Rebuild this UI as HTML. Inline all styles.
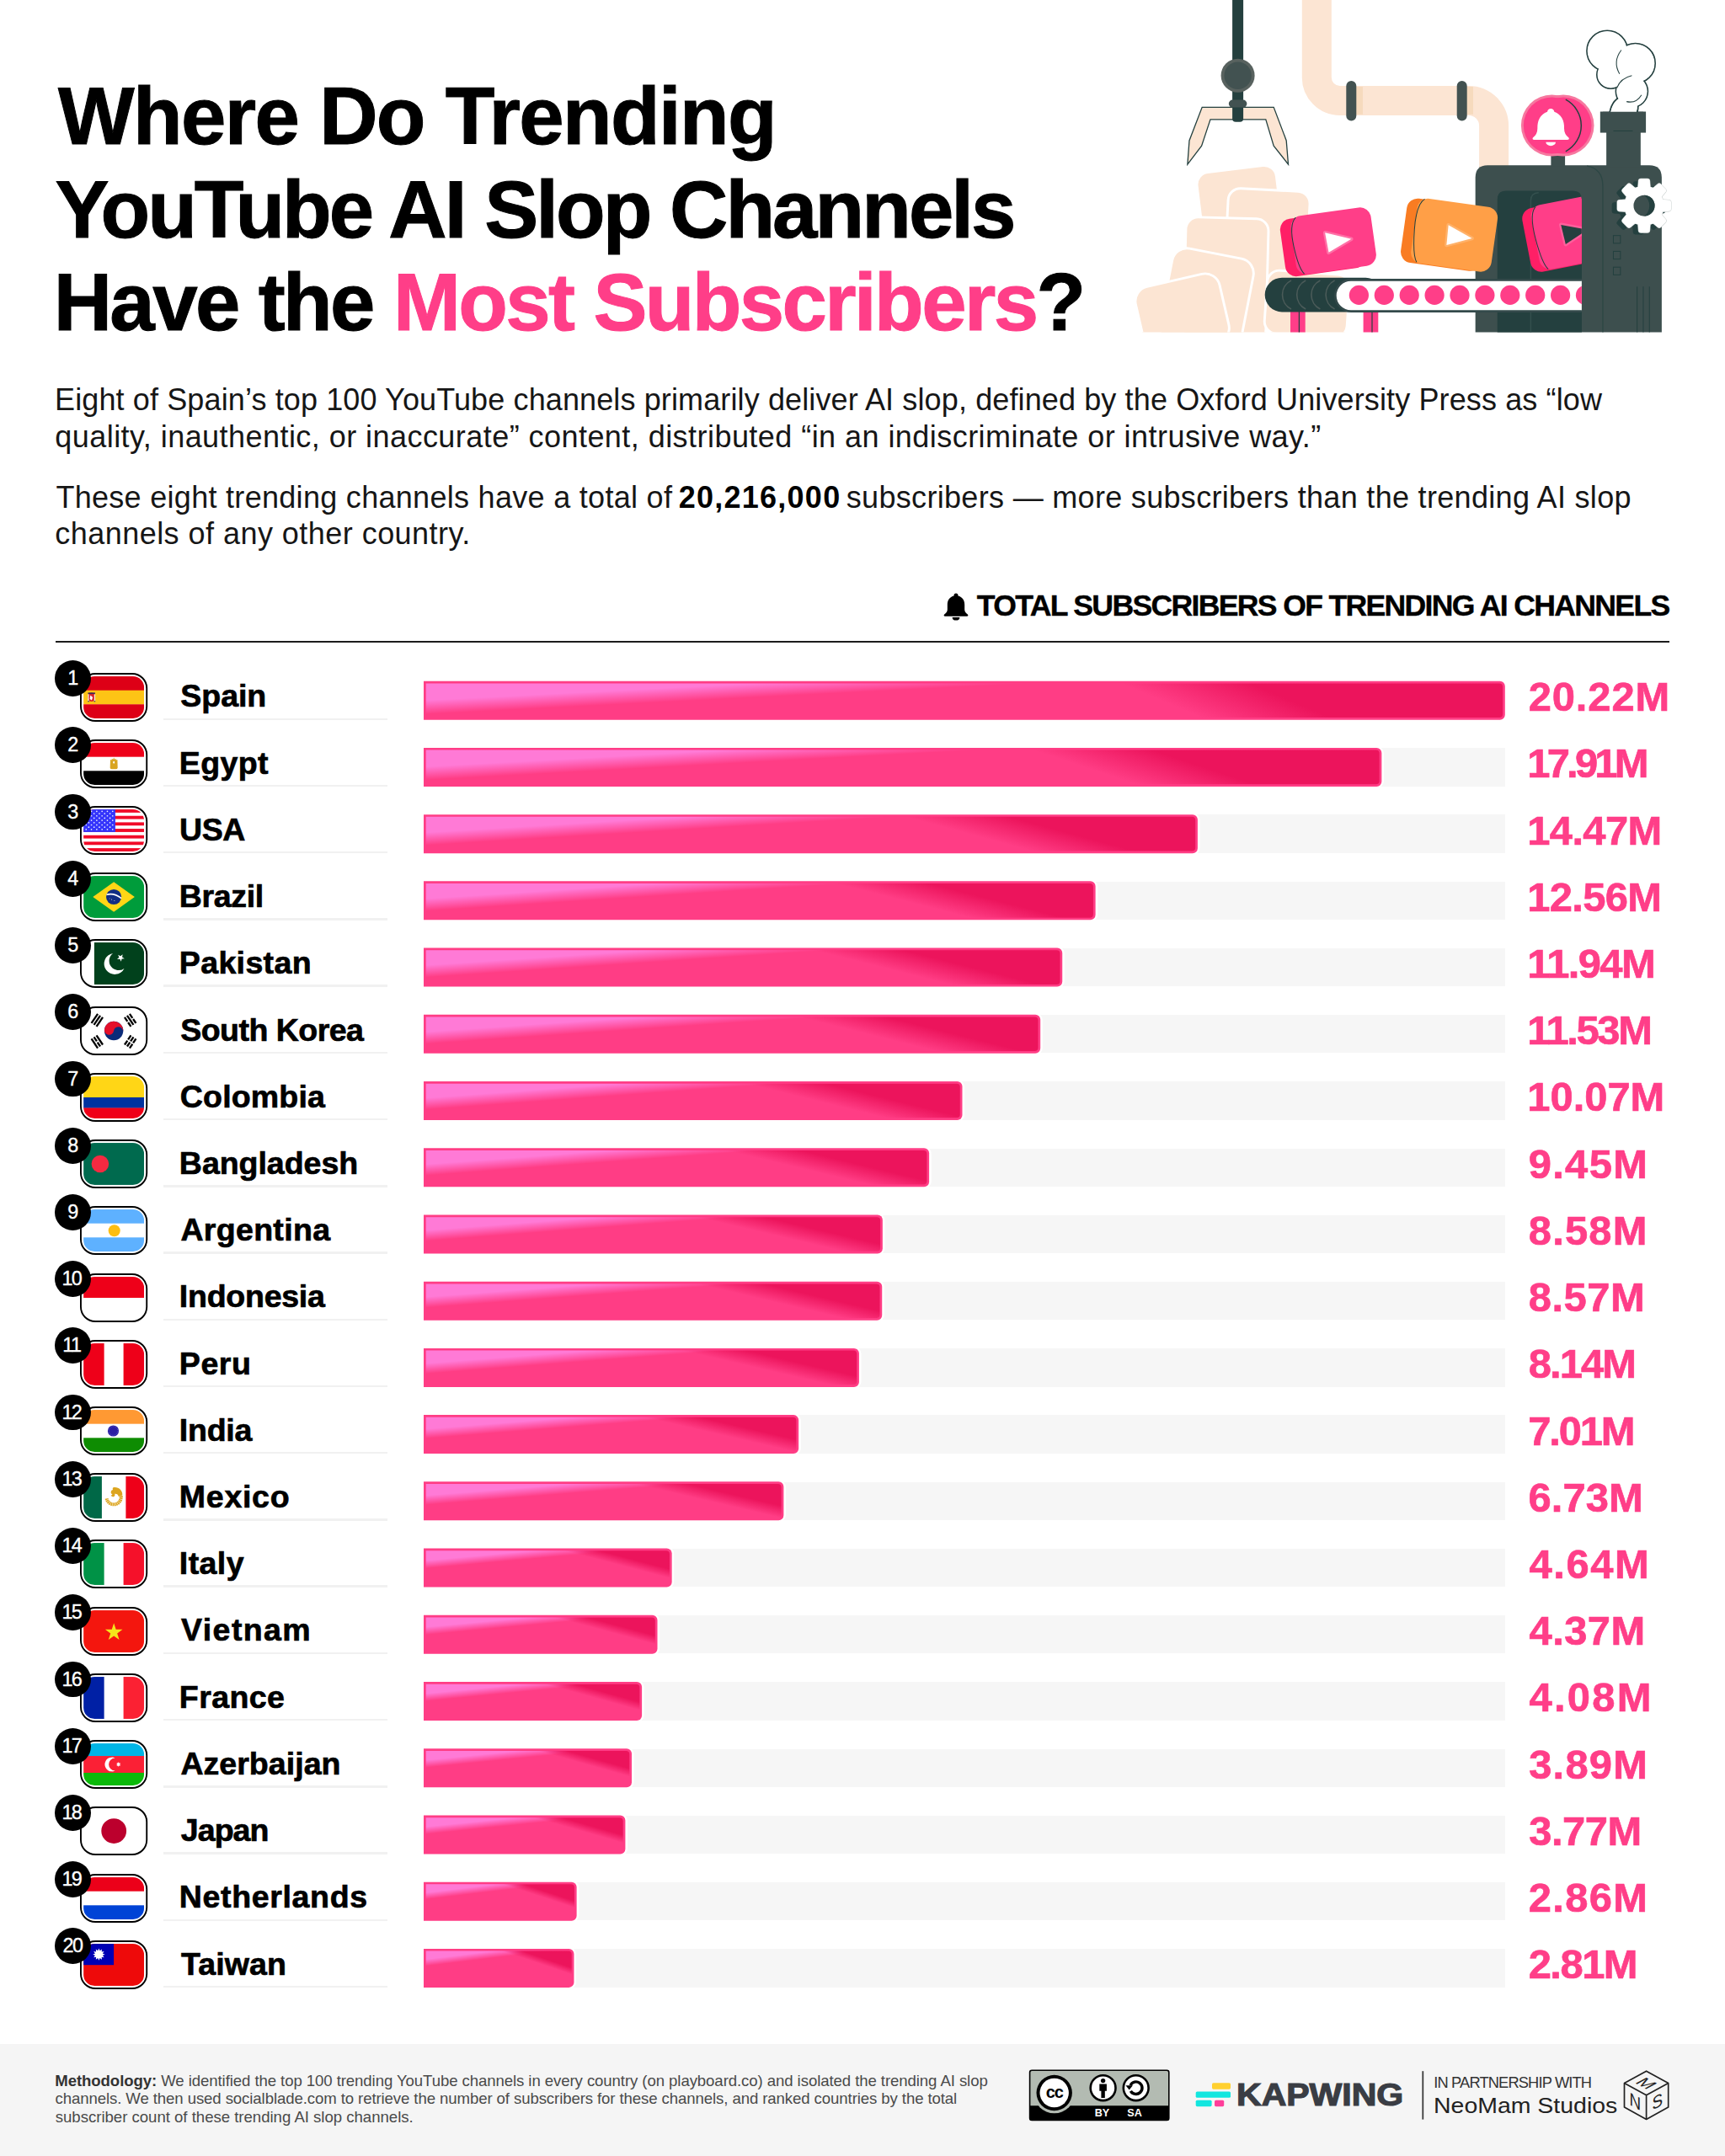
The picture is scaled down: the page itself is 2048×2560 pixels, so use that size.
<!DOCTYPE html>
<html lang="en"><head><meta charset="utf-8"><title>Where Do Trending YouTube AI Slop Channels Have the Most Subscribers?</title>
<style>
html,body{margin:0;padding:0}
body{width:2048px;height:2560px;position:relative;background:#fff;overflow:hidden;font-family:"Liberation Sans",sans-serif}
.t{position:absolute;white-space:nowrap;line-height:1;font-family:"Liberation Sans",sans-serif}
.track{position:absolute;left:503px;width:1283.8px;height:45.4px;background:#f6f6f6}
.ul{position:absolute;left:193.7px;width:266.3px;height:2.4px;background:#f1f1f1}
.num{position:absolute;left:65.4px;width:42.8px;height:42.8px;border-radius:50%;background:#000;color:#fff;font-size:23.4px;line-height:43.4px;-webkit-text-stroke:0.35px #fff;text-align:center;font-family:"Liberation Sans",sans-serif}
.rule{position:absolute;left:66px;width:1916px;top:760.7px;height:2.1px;background:#1c1c1c}
.foot{position:absolute;left:0;top:2427px;width:2048px;height:133px;background:#f5f5f5}
svg{position:absolute;left:0;top:0;overflow:visible}
</style></head><body>
<svg width="2048" height="400" viewBox="0 0 2048 400"><defs><clipPath id="illclip"><rect x="1340" y="-5" width="708" height="399.4"/></clipPath><clipPath id="doorclip"><path d="M430 1895V1135Q430 1085 480 1085H860Q910 1085 910 1135V1895Z"/></clipPath><clipPath id="beltclip"><rect x="1490" y="320" width="387.9" height="80"/></clipPath></defs><g clip-path="url(#illclip)"><path d="M1563.3 -5V91.5A27.5 27.5 0 0 0 1590.8 119.4H1743.6A30 30 0 0 1 1773.6 149.4V200" stroke="#fce5d3" stroke-width="35" fill="none"/><rect x="1610" y="103" width="8" height="32.8" fill="#f3d6b3" opacity="0.7"/><rect x="1741" y="103" width="8" height="32.8" fill="#f3d6b3" opacity="0.7"/><rect x="1598.3" y="96" width="12" height="47.6" rx="6" fill="#425251"/><rect x="1729.7" y="96" width="12" height="47.6" rx="6" fill="#425251"/><g transform="translate(1340,0) scale(0.208696)"><rect x="397.5" y="960.0" width="455" height="310" rx="70" transform="rotate(-7 625 1115)" fill="#fce5d3" stroke="#fff" stroke-width="14"/><rect x="552.5" y="1080.0" width="465" height="640" rx="70" transform="rotate(3 785 1400)" fill="#fce5d3" stroke="#fff" stroke-width="14"/><rect x="318.0" y="1240.0" width="470" height="700" rx="70" transform="rotate(1.5 553 1590)" fill="#fce5d3" stroke="#fff" stroke-width="14"/><rect x="780.0" y="1550.0" width="470" height="360" rx="70" transform="rotate(4 1015 1730)" fill="#fce5d3" stroke="#fff" stroke-width="14"/><rect x="208.0" y="1438.0" width="470" height="540" rx="85" transform="rotate(11 443 1708)" fill="#fce5d3" stroke="#fff" stroke-width="14"/><rect x="60.0" y="1590.0" width="490" height="400" rx="85" transform="rotate(-13 305 1790)" fill="#fce5d3" stroke="#fff" stroke-width="14"/></g><g transform="translate(1688,0) scale(0.208696)"><path d="M305 1895V1010Q305 940 375 940H1295Q1365 940 1365 1010V1895Z" fill="#3d4f4e"/><path d="M430 1895V1135Q430 1085 480 1085H860Q910 1085 910 1135V1895Z" fill="#24403f"/><path d="M620 1895V1140Q620 1098 665 1096" stroke="#34504e" stroke-width="7" fill="none"/><path d="M940 945Q1030 960 1030 1060V1895" stroke="#2c4644" stroke-width="6" fill="none"/><path d="M1225 1630V1895M1260 1630V1895M1295 1630V1895" stroke="#24403f" stroke-width="5"/><rect x="1090" y="1340" width="40" height="44" fill="none" stroke="#24403f" stroke-width="5"/><rect x="1090" y="1430" width="40" height="44" fill="none" stroke="#24403f" stroke-width="5"/><rect x="1090" y="1520" width="40" height="44" fill="none" stroke="#24403f" stroke-width="5"/><rect x="1050" y="700" width="195" height="250" fill="#3d4f4e"/><rect x="1015" y="635" width="260" height="120" fill="#3d4f4e"/><path d="M1090 745H1200" stroke="#24403f" stroke-width="5"/><rect x="735" y="880" width="80" height="65" fill="#3d4f4e"/><g clip-path="url(#doorclip)"><g transform="rotate(-11 842 1322)"><rect x="590.0" y="1144.0" width="400" height="368" rx="62" fill="#ff1f66"/><rect x="642.0" y="1136.0" width="400" height="372" rx="62" fill="#ff3e88"/><path d="M678.0 1142.0Q634.0 1176.0 644.0 1322T682.0 1504.0" stroke="#24403f" stroke-width="5" fill="none"/><path d="M801 1270L944 1326L806 1384Z" fill="#ff5f9c" stroke="#ff5f9c" stroke-width="22" stroke-linejoin="round"/><path d="M801 1270L944 1326L806 1384Z" fill="#24403f"/></g></g></g><g clip-path="url(#beltclip)"><rect x="1532" y="368" width="17.7" height="30" fill="#ff3e88"/><rect x="1618.6" y="368" width="17.7" height="30" fill="#ff3e88"/><path d="M1542.4 368V396M1629 368V396" stroke="#24403f" stroke-width="1.2"/><rect x="1501.7" y="329.7" width="140" height="40.7" rx="20.3" fill="#24403f"/><path d="M1604 332.4H1890V369.6H1604A18.6 18.6 0 0 1 1604 332.4Z" fill="#fff" stroke="#33494a" stroke-width="2.6"/><path d="M1533.0 333A19 19 0 0 0 1533.0 367" stroke="#4b5b59" stroke-width="1.6" fill="none"/><path d="M1550.2 333A19 19 0 0 0 1550.2 367" stroke="#4b5b59" stroke-width="1.6" fill="none"/><path d="M1567.4 333A19 19 0 0 0 1567.4 367" stroke="#4b5b59" stroke-width="1.6" fill="none"/><path d="M1584.6 333A19 19 0 0 0 1584.6 367" stroke="#4b5b59" stroke-width="1.6" fill="none"/><circle cx="1613.4" cy="350.4" r="11.6" fill="#ff3e88"/><circle cx="1643.3" cy="350.4" r="11.6" fill="#ff3e88"/><circle cx="1673.2" cy="350.4" r="11.6" fill="#ff3e88"/><circle cx="1703.1" cy="350.4" r="11.6" fill="#ff3e88"/><circle cx="1733.0" cy="350.4" r="11.6" fill="#ff3e88"/><circle cx="1762.9" cy="350.4" r="11.6" fill="#ff3e88"/><circle cx="1792.8" cy="350.4" r="11.6" fill="#ff3e88"/><circle cx="1822.7" cy="350.4" r="11.6" fill="#ff3e88"/><circle cx="1852.6" cy="350.4" r="11.6" fill="#ff3e88"/><circle cx="1882.5" cy="350.4" r="11.6" fill="#ff3e88"/></g><g transform="translate(1340,0) scale(0.208696)"><g transform="rotate(-8 1165 1370)"><rect x="873.0" y="1210.5" width="460" height="331" rx="62" fill="#ff1f66"/><rect x="935.0" y="1202.5" width="460" height="335" rx="62" fill="#ff3e88"/><path d="M971.0 1208.5Q927.0 1242.5 937.0 1370T975.0 1533.5" stroke="#24403f" stroke-width="5" fill="none"/><path d="M1124 1318L1267 1374L1129 1432Z" fill="#ff6fa6" stroke="#ff6fa6" stroke-width="22" stroke-linejoin="round"/><path d="M1124 1318L1267 1374L1129 1432Z" fill="#fff"/></g></g><g transform="translate(1688,0) scale(0.208696)"><g transform="rotate(8 185 1338)"><rect x="-104.0" y="1160.0" width="462" height="368" rx="62" fill="#f97c22"/><rect x="-46.0" y="1152.0" width="462" height="372" rx="62" fill="#ff9f47"/><path d="M-10.0 1158.0Q-54.0 1192.0 -44.0 1338T-6.0 1520.0" stroke="#24403f" stroke-width="5" fill="none"/><path d="M144 1286L287 1342L149 1400Z" fill="#ffb169" stroke="#ffb169" stroke-width="22" stroke-linejoin="round"/><path d="M144 1286L287 1342L149 1400Z" fill="#fff"/></g><circle cx="1055" cy="290" r="115" fill="#fff" stroke="#24403f" stroke-width="10"/><circle cx="1215" cy="360" r="112" fill="#fff" stroke="#24403f" stroke-width="10"/><circle cx="1195" cy="520" r="90" fill="#fff" stroke="#24403f" stroke-width="10"/><circle cx="1075" cy="425" r="78" fill="#fff" stroke="#24403f" stroke-width="10"/><circle cx="1150" cy="400" r="90" fill="#fff" stroke="#24403f" stroke-width="10"/><path d="M1070 640Q1085 560 1150 545Q1250 540 1225 640Z" fill="#fff" stroke="#24403f" stroke-width="10"/><circle cx="1055" cy="290" r="112.5" fill="#fff"/><circle cx="1215" cy="360" r="109.5" fill="#fff"/><circle cx="1195" cy="520" r="87.5" fill="#fff"/><circle cx="1075" cy="425" r="75.5" fill="#fff"/><circle cx="1150" cy="400" r="87.5" fill="#fff"/><path d="M1074 637Q1090 563 1150 550Q1246 545 1221 637Z" fill="#fff"/><path d="M1135 285Q1085 350 1125 420M1195 430Q1130 445 1110 500M1250 540Q1220 590 1165 578" stroke="#24403f" stroke-width="5" fill="none"/><rect x="1030" y="636" width="230" height="14" fill="#3d4f4e"/><circle cx="805" cy="714" r="175" fill="#f6789f"/><circle cx="740" cy="714" r="175" fill="#f6789f"/><circle cx="805" cy="714" r="161" fill="#ff3e88"/><circle cx="740" cy="714" r="161" fill="#ff3e88"/><path d="M818.4 566.5A167 167 0 0 1 818.4 861.5" stroke="#24403f" stroke-width="7" fill="none"/><g transform="translate(-6,0)"><path d="M740 618q16 0 20 18q58 22 56 96q0 32 26 52q6 10-8 12h-188q-14-2-8-12q26-20 26-52q-2-74 56-96q4-18 20-18z" fill="#fff"/><path d="M712 808h56a28 22 0 0 1-56 0z" fill="#fff"/></g><path d="M1330.5 1160.9 L1371.8 1164.6 L1371.8 1201.4 L1330.5 1205.1 L1317.6 1236.4 L1344.2 1268.1 L1318.1 1294.2 L1286.4 1267.6 L1255.1 1280.5 L1251.4 1321.8 L1214.6 1321.8 L1210.9 1280.5 L1179.6 1267.6 L1147.9 1294.2 L1121.8 1268.1 L1148.4 1236.4 L1135.5 1205.1 L1094.2 1201.4 L1094.2 1164.6 L1135.5 1160.9 L1148.4 1129.6 L1121.8 1097.9 L1147.9 1071.8 L1179.6 1098.4 L1210.9 1085.5 L1214.6 1044.2 L1251.4 1044.2 L1255.1 1085.5 L1286.4 1098.4 L1318.1 1071.8 L1344.2 1097.9 L1317.6 1129.6Z" fill="#24403f" stroke="#24403f" stroke-width="26" stroke-linejoin="round"/><path d="M1362.5 1147.9 L1404.8 1151.4 L1404.8 1188.6 L1362.5 1192.1 L1349.6 1223.4 L1377.0 1255.7 L1350.7 1282.0 L1318.4 1254.6 L1287.1 1267.5 L1283.6 1309.8 L1246.4 1309.8 L1242.9 1267.5 L1211.6 1254.6 L1179.3 1282.0 L1153.0 1255.7 L1180.4 1223.4 L1167.5 1192.1 L1125.2 1188.6 L1125.2 1151.4 L1167.5 1147.9 L1180.4 1116.6 L1153.0 1084.3 L1179.3 1058.0 L1211.6 1085.4 L1242.9 1072.5 L1246.4 1030.2 L1283.6 1030.2 L1287.1 1072.5 L1318.4 1085.4 L1350.7 1058.0 L1377.0 1084.3 L1349.6 1116.6Z" fill="#fff" stroke="#c9d0cf" stroke-width="32" stroke-linejoin="round"/><path d="M1362.5 1147.9 L1404.8 1151.4 L1404.8 1188.6 L1362.5 1192.1 L1349.6 1223.4 L1377.0 1255.7 L1350.7 1282.0 L1318.4 1254.6 L1287.1 1267.5 L1283.6 1309.8 L1246.4 1309.8 L1242.9 1267.5 L1211.6 1254.6 L1179.3 1282.0 L1153.0 1255.7 L1180.4 1223.4 L1167.5 1192.1 L1125.2 1188.6 L1125.2 1151.4 L1167.5 1147.9 L1180.4 1116.6 L1153.0 1084.3 L1179.3 1058.0 L1211.6 1085.4 L1242.9 1072.5 L1246.4 1030.2 L1283.6 1030.2 L1287.1 1072.5 L1318.4 1085.4 L1350.7 1058.0 L1377.0 1084.3 L1349.6 1116.6Z" fill="#fff" stroke="#fff" stroke-width="27" stroke-linejoin="round"/><circle cx="1265" cy="1170" r="60" fill="#3d4f4e"/><path d="M1265 1110a60 60 0 0 1 0 120a75 75 0 0 0 0-120z" fill="#24403f"/></g><path d="M1427.2 127.3H1512.2L1527.2 166.9L1529.5 195.1L1512.2 173.2L1502.8 141.9H1437L1426.6 173.2L1409.9 195.1L1412 166.9Z" fill="#fce5d3" stroke="#24403f" stroke-width="1.3" stroke-linejoin="miter"/><rect x="1463.1" y="-5" width="13" height="149.8" rx="4" fill="#24403f"/><circle cx="1469.6" cy="89.7" r="20" fill="#58625f"/><circle cx="1469.6" cy="89.7" r="16.2" fill="#425251"/><rect x="1458.8" y="118.6" width="21.6" height="9" rx="4.5" fill="#425251"/></g></svg>
<h1 style="margin:0;font-size:inherit;font-weight:inherit"><div class="t" style="left:69.01px;top:89.92px;font-size:96.0px;font-weight:700;color:#000;letter-spacing:-1.651px;-webkit-text-stroke:1.0px currentColor;">Where Do Trending</div><div class="t" style="left:65.56px;top:200.72px;font-size:96.0px;font-weight:700;color:#000;letter-spacing:-2.958px;-webkit-text-stroke:1.0px currentColor;">YouTube AI Slop Channels</div><div class="t" style="left:63.68px;top:310.62px;font-size:96.0px;font-weight:700;color:#000;letter-spacing:-2.627px;-webkit-text-stroke:1.0px currentColor;">Have the <span style="color:#ff3e88">Most Subscribers</span>?</div></h1>
<div class="t" style="left:65.05px;top:457.12px;font-size:36.0px;font-weight:400;color:#161616;letter-spacing:0.122px;">Eight of Spain’s top 100 YouTube channels primarily deliver AI slop, defined by the Oxford University Press as “low</div><div class="t" style="left:65.29px;top:501.02px;font-size:36.0px;font-weight:400;color:#161616;letter-spacing:0.450px;">quality, inauthentic, or inaccurate” content, distributed “in an indiscriminate or intrusive way.”</div><div class="t" style="left:66.39px;top:573.42px;font-size:36.0px;font-weight:400;color:#161616;letter-spacing:0.297px;">These eight trending channels have a total of</div><div class="t" style="left:805.75px;top:573.42px;font-size:36.0px;font-weight:700;color:#000;letter-spacing:1.249px;">20,216,000</div><div class="t" style="left:1004.80px;top:573.42px;font-size:36.0px;font-weight:400;color:#161616;letter-spacing:0.314px;">subscribers — more subscribers than the trending AI slop</div><div class="t" style="left:65.27px;top:616.42px;font-size:36.0px;font-weight:400;color:#161616;letter-spacing:0.462px;">channels of any other country.</div>
<svg width="30" height="33" viewBox="0 0 30 33" style="left:1119.7px;top:704.2px"><path d="M15 0.4a2.5 2.5 0 0 1 2.5 2.5v0.7c4.9 1.2 7.7 5.1 7.700 10.500v5.600c0 2.400 1.500 4.300 3.600 5.800c1.100 0.800 0.600 2.300-0.800 2.300H2c-1.400 0-1.900-1.500-0.800-2.300c2.100-1.500 3.600-3.400 3.600-5.800v-5.600c0-5.400 2.800-9.300 7.700-10.500v-0.700A2.500 2.500 0 0 1 15 0.400z" fill="#000"/><path d="M10.600 28.900h8.800a4.400 3.700 0 0 1-8.800 0z" fill="#000"/></svg><div class="t" style="left:1159.80px;top:702.16px;font-size:35.6px;font-weight:700;color:#000;letter-spacing:-1.669px;-webkit-text-stroke:0.4px currentColor;">TOTAL SUBSCRIBERS OF TRENDING AI CHANNELS</div>
<div class="rule"></div>
<div class="track" style="top:888.22px"></div><div class="track" style="top:967.44px"></div><div class="track" style="top:1046.66px"></div><div class="track" style="top:1125.88px"></div><div class="track" style="top:1205.10px"></div><div class="track" style="top:1284.32px"></div><div class="track" style="top:1363.54px"></div><div class="track" style="top:1442.76px"></div><div class="track" style="top:1521.98px"></div><div class="track" style="top:1601.20px"></div><div class="track" style="top:1680.42px"></div><div class="track" style="top:1759.64px"></div><div class="track" style="top:1838.86px"></div><div class="track" style="top:1918.08px"></div><div class="track" style="top:1997.30px"></div><div class="track" style="top:2076.52px"></div><div class="track" style="top:2155.74px"></div><div class="track" style="top:2234.96px"></div><div class="track" style="top:2314.18px"></div>
<svg width="2048" height="2560" viewBox="0 0 2048 2560"><defs><linearGradient id="l0" gradientUnits="userSpaceOnUse" x1="505.70" y1="811.40" x2="507.56" y2="847.84"><stop offset="0" stop-color="#ff7ad6"/><stop offset="0.55" stop-color="#ff7ad6"/><stop offset="1" stop-color="#ff7ad6" stop-opacity="0"/></linearGradient><linearGradient id="d0" gradientUnits="userSpaceOnUse" x1="1330.26" y1="811.40" x2="1353.56" y2="756.33"><stop offset="0" stop-color="#ec145c" stop-opacity="0"/><stop offset="1" stop-color="#ec145c"/></linearGradient><linearGradient id="l1" gradientUnits="userSpaceOnUse" x1="505.70" y1="890.62" x2="507.63" y2="926.07"><stop offset="0" stop-color="#ff7ad6"/><stop offset="0.55" stop-color="#ff7ad6"/><stop offset="1" stop-color="#ff7ad6" stop-opacity="0"/></linearGradient><linearGradient id="d1" gradientUnits="userSpaceOnUse" x1="1226.94" y1="890.62" x2="1241.21" y2="847.97"><stop offset="0" stop-color="#ec145c" stop-opacity="0"/><stop offset="1" stop-color="#ec145c"/></linearGradient><linearGradient id="l2" gradientUnits="userSpaceOnUse" x1="505.70" y1="969.84" x2="507.75" y2="1003.52"><stop offset="0" stop-color="#ff7ad6"/><stop offset="0.55" stop-color="#ff7ad6"/><stop offset="1" stop-color="#ff7ad6" stop-opacity="0"/></linearGradient><linearGradient id="d2" gradientUnits="userSpaceOnUse" x1="1075.16" y1="969.84" x2="1083.57" y2="938.82"><stop offset="0" stop-color="#ec145c" stop-opacity="0"/><stop offset="1" stop-color="#ec145c"/></linearGradient><linearGradient id="l3" gradientUnits="userSpaceOnUse" x1="505.70" y1="1049.06" x2="507.83" y2="1081.57"><stop offset="0" stop-color="#ff7ad6"/><stop offset="0.55" stop-color="#ff7ad6"/><stop offset="1" stop-color="#ff7ad6" stop-opacity="0"/></linearGradient><linearGradient id="d3" gradientUnits="userSpaceOnUse" x1="992.30" y1="1049.06" x2="999.06" y2="1022.47"><stop offset="0" stop-color="#ec145c" stop-opacity="0"/><stop offset="1" stop-color="#ec145c"/></linearGradient><linearGradient id="l4" gradientUnits="userSpaceOnUse" x1="505.70" y1="1128.28" x2="507.86" y2="1160.37"><stop offset="0" stop-color="#ff7ad6"/><stop offset="0.55" stop-color="#ff7ad6"/><stop offset="1" stop-color="#ff7ad6" stop-opacity="0"/></linearGradient><linearGradient id="d4" gradientUnits="userSpaceOnUse" x1="965.65" y1="1128.28" x2="972.01" y2="1102.92"><stop offset="0" stop-color="#ec145c" stop-opacity="0"/><stop offset="1" stop-color="#ec145c"/></linearGradient><linearGradient id="l5" gradientUnits="userSpaceOnUse" x1="505.70" y1="1207.50" x2="507.88" y2="1239.30"><stop offset="0" stop-color="#ff7ad6"/><stop offset="0.55" stop-color="#ff7ad6"/><stop offset="1" stop-color="#ff7ad6" stop-opacity="0"/></linearGradient><linearGradient id="d5" gradientUnits="userSpaceOnUse" x1="948.10" y1="1207.50" x2="954.23" y2="1182.92"><stop offset="0" stop-color="#ec145c" stop-opacity="0"/><stop offset="1" stop-color="#ec145c"/></linearGradient><linearGradient id="l6" gradientUnits="userSpaceOnUse" x1="505.70" y1="1286.72" x2="507.96" y2="1317.40"><stop offset="0" stop-color="#ff7ad6"/><stop offset="0.55" stop-color="#ff7ad6"/><stop offset="1" stop-color="#ff7ad6" stop-opacity="0"/></linearGradient><linearGradient id="d6" gradientUnits="userSpaceOnUse" x1="886.14" y1="1286.72" x2="891.56" y2="1264.66"><stop offset="0" stop-color="#ec145c" stop-opacity="0"/><stop offset="1" stop-color="#ec145c"/></linearGradient><linearGradient id="l7" gradientUnits="userSpaceOnUse" x1="505.70" y1="1365.94" x2="507.92" y2="1395.62"><stop offset="0" stop-color="#ff7ad6"/><stop offset="0.55" stop-color="#ff7ad6"/><stop offset="1" stop-color="#ff7ad6" stop-opacity="0"/></linearGradient><linearGradient id="d7" gradientUnits="userSpaceOnUse" x1="861.48" y1="1365.94" x2="866.32" y2="1345.72"><stop offset="0" stop-color="#ec145c" stop-opacity="0"/><stop offset="1" stop-color="#ec145c"/></linearGradient><linearGradient id="l8" gradientUnits="userSpaceOnUse" x1="505.70" y1="1445.16" x2="507.86" y2="1473.33"><stop offset="0" stop-color="#ff7ad6"/><stop offset="0.55" stop-color="#ff7ad6"/><stop offset="1" stop-color="#ff7ad6" stop-opacity="0"/></linearGradient><linearGradient id="d8" gradientUnits="userSpaceOnUse" x1="826.99" y1="1445.16" x2="831.18" y2="1427.23"><stop offset="0" stop-color="#ec145c" stop-opacity="0"/><stop offset="1" stop-color="#ec145c"/></linearGradient><linearGradient id="l9" gradientUnits="userSpaceOnUse" x1="505.70" y1="1524.38" x2="507.85" y2="1552.54"><stop offset="0" stop-color="#ff7ad6"/><stop offset="0.55" stop-color="#ff7ad6"/><stop offset="1" stop-color="#ff7ad6" stop-opacity="0"/></linearGradient><linearGradient id="d9" gradientUnits="userSpaceOnUse" x1="826.59" y1="1524.38" x2="830.78" y2="1506.47"><stop offset="0" stop-color="#ec145c" stop-opacity="0"/><stop offset="1" stop-color="#ec145c"/></linearGradient><linearGradient id="l10" gradientUnits="userSpaceOnUse" x1="505.70" y1="1603.60" x2="507.82" y2="1630.95"><stop offset="0" stop-color="#ff7ad6"/><stop offset="0.55" stop-color="#ff7ad6"/><stop offset="1" stop-color="#ff7ad6" stop-opacity="0"/></linearGradient><linearGradient id="d10" gradientUnits="userSpaceOnUse" x1="809.61" y1="1603.60" x2="813.52" y2="1586.72"><stop offset="0" stop-color="#ec145c" stop-opacity="0"/><stop offset="1" stop-color="#ec145c"/></linearGradient><linearGradient id="l11" gradientUnits="userSpaceOnUse" x1="505.70" y1="1682.82" x2="507.69" y2="1707.84"><stop offset="0" stop-color="#ff7ad6"/><stop offset="0.55" stop-color="#ff7ad6"/><stop offset="1" stop-color="#ff7ad6" stop-opacity="0"/></linearGradient><linearGradient id="d11" gradientUnits="userSpaceOnUse" x1="765.17" y1="1682.82" x2="768.50" y2="1668.36"><stop offset="0" stop-color="#ec145c" stop-opacity="0"/><stop offset="1" stop-color="#ec145c"/></linearGradient><linearGradient id="l12" gradientUnits="userSpaceOnUse" x1="505.70" y1="1762.04" x2="507.68" y2="1786.64"><stop offset="0" stop-color="#ff7ad6"/><stop offset="0.55" stop-color="#ff7ad6"/><stop offset="1" stop-color="#ff7ad6" stop-opacity="0"/></linearGradient><linearGradient id="d12" gradientUnits="userSpaceOnUse" x1="753.81" y1="1762.04" x2="757.05" y2="1748.10"><stop offset="0" stop-color="#ec145c" stop-opacity="0"/><stop offset="1" stop-color="#ec145c"/></linearGradient><linearGradient id="l13" gradientUnits="userSpaceOnUse" x1="505.70" y1="1841.26" x2="507.59" y2="1862.09"><stop offset="0" stop-color="#ff7ad6"/><stop offset="0.55" stop-color="#ff7ad6"/><stop offset="1" stop-color="#ff7ad6" stop-opacity="0"/></linearGradient><linearGradient id="d13" gradientUnits="userSpaceOnUse" x1="670.07" y1="1841.26" x2="672.77" y2="1830.95"><stop offset="0" stop-color="#ec145c" stop-opacity="0"/><stop offset="1" stop-color="#ec145c"/></linearGradient><linearGradient id="l14" gradientUnits="userSpaceOnUse" x1="505.70" y1="1920.48" x2="507.62" y2="1940.92"><stop offset="0" stop-color="#ff7ad6"/><stop offset="0.55" stop-color="#ff7ad6"/><stop offset="1" stop-color="#ff7ad6" stop-opacity="0"/></linearGradient><linearGradient id="d14" gradientUnits="userSpaceOnUse" x1="658.73" y1="1920.48" x2="661.38" y2="1910.62"><stop offset="0" stop-color="#ec145c" stop-opacity="0"/><stop offset="1" stop-color="#ec145c"/></linearGradient><linearGradient id="l15" gradientUnits="userSpaceOnUse" x1="505.70" y1="1999.70" x2="507.65" y2="2019.69"><stop offset="0" stop-color="#ff7ad6"/><stop offset="0.55" stop-color="#ff7ad6"/><stop offset="1" stop-color="#ff7ad6" stop-opacity="0"/></linearGradient><linearGradient id="d15" gradientUnits="userSpaceOnUse" x1="646.67" y1="1999.70" x2="649.26" y2="1990.31"><stop offset="0" stop-color="#ec145c" stop-opacity="0"/><stop offset="1" stop-color="#ec145c"/></linearGradient><linearGradient id="l16" gradientUnits="userSpaceOnUse" x1="505.70" y1="2078.92" x2="507.68" y2="2098.60"><stop offset="0" stop-color="#ff7ad6"/><stop offset="0.55" stop-color="#ff7ad6"/><stop offset="1" stop-color="#ff7ad6" stop-opacity="0"/></linearGradient><linearGradient id="d16" gradientUnits="userSpaceOnUse" x1="638.84" y1="2078.92" x2="641.40" y2="2069.85"><stop offset="0" stop-color="#ec145c" stop-opacity="0"/><stop offset="1" stop-color="#ec145c"/></linearGradient><linearGradient id="l17" gradientUnits="userSpaceOnUse" x1="505.70" y1="2158.14" x2="507.69" y2="2177.61"><stop offset="0" stop-color="#ff7ad6"/><stop offset="0.55" stop-color="#ff7ad6"/><stop offset="1" stop-color="#ff7ad6" stop-opacity="0"/></linearGradient><linearGradient id="d17" gradientUnits="userSpaceOnUse" x1="633.92" y1="2158.14" x2="636.46" y2="2149.26"><stop offset="0" stop-color="#ec145c" stop-opacity="0"/><stop offset="1" stop-color="#ec145c"/></linearGradient><linearGradient id="l18" gradientUnits="userSpaceOnUse" x1="505.70" y1="2237.36" x2="507.82" y2="2255.03"><stop offset="0" stop-color="#ff7ad6"/><stop offset="0.55" stop-color="#ff7ad6"/><stop offset="1" stop-color="#ff7ad6" stop-opacity="0"/></linearGradient><linearGradient id="d18" gradientUnits="userSpaceOnUse" x1="597.49" y1="2237.36" x2="599.92" y2="2230.00"><stop offset="0" stop-color="#ec145c" stop-opacity="0"/><stop offset="1" stop-color="#ec145c"/></linearGradient><linearGradient id="l19" gradientUnits="userSpaceOnUse" x1="505.70" y1="2316.58" x2="507.84" y2="2334.18"><stop offset="0" stop-color="#ff7ad6"/><stop offset="0.55" stop-color="#ff7ad6"/><stop offset="1" stop-color="#ff7ad6" stop-opacity="0"/></linearGradient><linearGradient id="d19" gradientUnits="userSpaceOnUse" x1="595.68" y1="2316.58" x2="598.13" y2="2309.28"><stop offset="0" stop-color="#ec145c" stop-opacity="0"/><stop offset="1" stop-color="#ec145c"/></linearGradient></defs><path d="M503.00 807.50H1781.90A7.5 7.5 0 0 1 1789.40 815.00V848.40A7.5 7.5 0 0 1 1781.90 855.90H503.00Z" fill="#fff"/><path d="M503.00 808.70H1780.80A6 6 0 0 1 1786.80 814.70V848.70A6 6 0 0 1 1780.80 854.70H503.00Z" fill="#ff3d85"/><path d="M505.70 811.40H1780.10A4 4 0 0 1 1784.10 815.40V848.00A4 4 0 0 1 1780.10 852.00H505.70Z" fill="url(#l0)"/><path d="M505.70 811.40H1780.10A4 4 0 0 1 1784.10 815.40V848.00A4 4 0 0 1 1780.10 852.00H505.70Z" fill="url(#d0)"/><path d="M503.00 886.72H1635.46A7.5 7.5 0 0 1 1642.96 894.22V927.62A7.5 7.5 0 0 1 1635.46 935.12H503.00Z" fill="#fff"/><path d="M503.00 887.92H1634.36A6 6 0 0 1 1640.36 893.92V927.92A6 6 0 0 1 1634.36 933.92H503.00Z" fill="#ff3d85"/><path d="M505.70 890.62H1633.66A4 4 0 0 1 1637.66 894.62V927.22A4 4 0 0 1 1633.66 931.22H505.70Z" fill="url(#l1)"/><path d="M505.70 890.62H1633.66A4 4 0 0 1 1637.66 894.62V927.22A4 4 0 0 1 1633.66 931.22H505.70Z" fill="url(#d1)"/><path d="M503.00 965.94H1417.01A7.5 7.5 0 0 1 1424.51 973.44V1006.84A7.5 7.5 0 0 1 1417.01 1014.34H503.00Z" fill="#fff"/><path d="M503.00 967.14H1415.91A6 6 0 0 1 1421.91 973.14V1007.14A6 6 0 0 1 1415.91 1013.14H503.00Z" fill="#ff3d85"/><path d="M505.70 969.84H1415.21A4 4 0 0 1 1419.21 973.84V1006.44A4 4 0 0 1 1415.21 1010.44H505.70Z" fill="url(#l2)"/><path d="M505.70 969.84H1415.21A4 4 0 0 1 1419.21 973.84V1006.44A4 4 0 0 1 1415.21 1010.44H505.70Z" fill="url(#d2)"/><path d="M503.00 1045.16H1295.71A7.5 7.5 0 0 1 1303.21 1052.66V1086.06A7.5 7.5 0 0 1 1295.71 1093.56H503.00Z" fill="#fff"/><path d="M503.00 1046.36H1294.61A6 6 0 0 1 1300.61 1052.36V1086.36A6 6 0 0 1 1294.61 1092.36H503.00Z" fill="#ff3d85"/><path d="M505.70 1049.06H1293.91A4 4 0 0 1 1297.91 1053.06V1085.66A4 4 0 0 1 1293.91 1089.66H505.70Z" fill="url(#l3)"/><path d="M505.70 1049.06H1293.91A4 4 0 0 1 1297.91 1053.06V1085.66A4 4 0 0 1 1293.91 1089.66H505.70Z" fill="url(#d3)"/><path d="M503.00 1124.38H1256.34A7.5 7.5 0 0 1 1263.84 1131.88V1165.28A7.5 7.5 0 0 1 1256.34 1172.78H503.00Z" fill="#fff"/><path d="M503.00 1125.58H1255.24A6 6 0 0 1 1261.24 1131.58V1165.58A6 6 0 0 1 1255.24 1171.58H503.00Z" fill="#ff3d85"/><path d="M505.70 1128.28H1254.54A4 4 0 0 1 1258.54 1132.28V1164.88A4 4 0 0 1 1254.54 1168.88H505.70Z" fill="url(#l4)"/><path d="M505.70 1128.28H1254.54A4 4 0 0 1 1258.54 1132.28V1164.88A4 4 0 0 1 1254.54 1168.88H505.70Z" fill="url(#d4)"/><path d="M503.00 1203.60H1230.30A7.5 7.5 0 0 1 1237.80 1211.10V1244.50A7.5 7.5 0 0 1 1230.30 1252.00H503.00Z" fill="#fff"/><path d="M503.00 1204.80H1229.20A6 6 0 0 1 1235.20 1210.80V1244.80A6 6 0 0 1 1229.20 1250.80H503.00Z" fill="#ff3d85"/><path d="M505.70 1207.50H1228.50A4 4 0 0 1 1232.50 1211.50V1244.10A4 4 0 0 1 1228.50 1248.10H505.70Z" fill="url(#l5)"/><path d="M505.70 1207.50H1228.50A4 4 0 0 1 1232.50 1211.50V1244.10A4 4 0 0 1 1228.50 1248.10H505.70Z" fill="url(#d5)"/><path d="M503.00 1282.82H1137.59A7.5 7.5 0 0 1 1145.09 1290.32V1323.72A7.5 7.5 0 0 1 1137.59 1331.22H503.00Z" fill="#fff"/><path d="M503.00 1284.02H1136.49A6 6 0 0 1 1142.49 1290.02V1324.02A6 6 0 0 1 1136.49 1330.02H503.00Z" fill="#ff3d85"/><path d="M505.70 1286.72H1135.79A4 4 0 0 1 1139.79 1290.72V1323.32A4 4 0 0 1 1135.79 1327.32H505.70Z" fill="url(#l6)"/><path d="M505.70 1286.72H1135.79A4 4 0 0 1 1139.79 1290.72V1323.32A4 4 0 0 1 1135.79 1327.32H505.70Z" fill="url(#d6)"/><path d="M503.00 1362.04H1098.21A7.5 7.5 0 0 1 1105.71 1369.54V1402.94A7.5 7.5 0 0 1 1098.21 1410.44H503.00Z" fill="#fff"/><path d="M503.00 1363.24H1097.11A6 6 0 0 1 1103.11 1369.24V1403.24A6 6 0 0 1 1097.11 1409.24H503.00Z" fill="#ff3d85"/><path d="M505.70 1365.94H1096.41A4 4 0 0 1 1100.41 1369.94V1402.54A4 4 0 0 1 1096.41 1406.54H505.70Z" fill="url(#l7)"/><path d="M505.70 1365.94H1096.41A4 4 0 0 1 1100.41 1369.94V1402.54A4 4 0 0 1 1096.41 1406.54H505.70Z" fill="url(#d7)"/><path d="M503.00 1441.26H1042.97A7.5 7.5 0 0 1 1050.47 1448.76V1482.16A7.5 7.5 0 0 1 1042.97 1489.66H503.00Z" fill="#fff"/><path d="M503.00 1442.46H1041.87A6 6 0 0 1 1047.87 1448.46V1482.46A6 6 0 0 1 1041.87 1488.46H503.00Z" fill="#ff3d85"/><path d="M505.70 1445.16H1041.17A4 4 0 0 1 1045.17 1449.16V1481.76A4 4 0 0 1 1041.17 1485.76H505.70Z" fill="url(#l8)"/><path d="M505.70 1445.16H1041.17A4 4 0 0 1 1045.17 1449.16V1481.76A4 4 0 0 1 1041.17 1485.76H505.70Z" fill="url(#d8)"/><path d="M503.00 1520.48H1042.33A7.5 7.5 0 0 1 1049.83 1527.98V1561.38A7.5 7.5 0 0 1 1042.33 1568.88H503.00Z" fill="#fff"/><path d="M503.00 1521.68H1041.23A6 6 0 0 1 1047.23 1527.68V1561.68A6 6 0 0 1 1041.23 1567.68H503.00Z" fill="#ff3d85"/><path d="M505.70 1524.38H1040.53A4 4 0 0 1 1044.53 1528.38V1560.98A4 4 0 0 1 1040.53 1564.98H505.70Z" fill="url(#l9)"/><path d="M505.70 1524.38H1040.53A4 4 0 0 1 1044.53 1528.38V1560.98A4 4 0 0 1 1040.53 1564.98H505.70Z" fill="url(#d9)"/><path d="M503.00 1599.70H1015.02A7.5 7.5 0 0 1 1022.52 1607.20V1640.60A7.5 7.5 0 0 1 1015.02 1648.10H503.00Z" fill="#fff"/><path d="M503.00 1600.90H1013.92A6 6 0 0 1 1019.92 1606.90V1640.90A6 6 0 0 1 1013.92 1646.90H503.00Z" fill="#ff3d85"/><path d="M505.70 1603.60H1013.22A4 4 0 0 1 1017.22 1607.60V1640.20A4 4 0 0 1 1013.22 1644.20H505.70Z" fill="url(#l10)"/><path d="M505.70 1603.60H1013.22A4 4 0 0 1 1017.22 1607.60V1640.20A4 4 0 0 1 1013.22 1644.20H505.70Z" fill="url(#d10)"/><path d="M503.00 1678.92H943.26A7.5 7.5 0 0 1 950.76 1686.42V1719.82A7.5 7.5 0 0 1 943.26 1727.32H503.00Z" fill="#fff"/><path d="M503.00 1680.12H942.16A6 6 0 0 1 948.16 1686.12V1720.12A6 6 0 0 1 942.16 1726.12H503.00Z" fill="#ff3d85"/><path d="M505.70 1682.82H941.46A4 4 0 0 1 945.46 1686.82V1719.42A4 4 0 0 1 941.46 1723.42H505.70Z" fill="url(#l11)"/><path d="M505.70 1682.82H941.46A4 4 0 0 1 945.46 1686.82V1719.42A4 4 0 0 1 941.46 1723.42H505.70Z" fill="url(#d11)"/><path d="M503.00 1758.14H925.48A7.5 7.5 0 0 1 932.98 1765.64V1799.04A7.5 7.5 0 0 1 925.48 1806.54H503.00Z" fill="#fff"/><path d="M503.00 1759.34H924.38A6 6 0 0 1 930.38 1765.34V1799.34A6 6 0 0 1 924.38 1805.34H503.00Z" fill="#ff3d85"/><path d="M505.70 1762.04H923.68A4 4 0 0 1 927.68 1766.04V1798.64A4 4 0 0 1 923.68 1802.64H505.70Z" fill="url(#l12)"/><path d="M505.70 1762.04H923.68A4 4 0 0 1 927.68 1766.04V1798.64A4 4 0 0 1 923.68 1802.64H505.70Z" fill="url(#d12)"/><path d="M503.00 1837.36H792.76A7.5 7.5 0 0 1 800.26 1844.86V1878.26A7.5 7.5 0 0 1 792.76 1885.76H503.00Z" fill="#fff"/><path d="M503.00 1838.56H791.66A6 6 0 0 1 797.66 1844.56V1878.56A6 6 0 0 1 791.66 1884.56H503.00Z" fill="#ff3d85"/><path d="M505.70 1841.26H790.96A4 4 0 0 1 794.96 1845.26V1877.86A4 4 0 0 1 790.96 1881.86H505.70Z" fill="url(#l13)"/><path d="M505.70 1841.26H790.96A4 4 0 0 1 794.96 1845.26V1877.86A4 4 0 0 1 790.96 1881.86H505.70Z" fill="url(#d13)"/><path d="M503.00 1916.58H775.61A7.5 7.5 0 0 1 783.11 1924.08V1957.48A7.5 7.5 0 0 1 775.61 1964.98H503.00Z" fill="#fff"/><path d="M503.00 1917.78H774.51A6 6 0 0 1 780.51 1923.78V1957.78A6 6 0 0 1 774.51 1963.78H503.00Z" fill="#ff3d85"/><path d="M505.70 1920.48H773.81A4 4 0 0 1 777.81 1924.48V1957.08A4 4 0 0 1 773.81 1961.08H505.70Z" fill="url(#l14)"/><path d="M505.70 1920.48H773.81A4 4 0 0 1 777.81 1924.48V1957.08A4 4 0 0 1 773.81 1961.08H505.70Z" fill="url(#d14)"/><path d="M503.00 1995.80H757.20A7.5 7.5 0 0 1 764.70 2003.30V2036.70A7.5 7.5 0 0 1 757.20 2044.20H503.00Z" fill="#fff"/><path d="M503.00 1997.00H756.10A6 6 0 0 1 762.10 2003.00V2037.00A6 6 0 0 1 756.10 2043.00H503.00Z" fill="#ff3d85"/><path d="M505.70 1999.70H755.40A4 4 0 0 1 759.40 2003.70V2036.30A4 4 0 0 1 755.40 2040.30H505.70Z" fill="url(#l15)"/><path d="M505.70 1999.70H755.40A4 4 0 0 1 759.40 2003.70V2036.30A4 4 0 0 1 755.40 2040.30H505.70Z" fill="url(#d15)"/><path d="M503.00 2075.02H745.13A7.5 7.5 0 0 1 752.63 2082.52V2115.92A7.5 7.5 0 0 1 745.13 2123.42H503.00Z" fill="#fff"/><path d="M503.00 2076.22H744.03A6 6 0 0 1 750.03 2082.22V2116.22A6 6 0 0 1 744.03 2122.22H503.00Z" fill="#ff3d85"/><path d="M505.70 2078.92H743.33A4 4 0 0 1 747.33 2082.92V2115.52A4 4 0 0 1 743.33 2119.52H505.70Z" fill="url(#l16)"/><path d="M505.70 2078.92H743.33A4 4 0 0 1 747.33 2082.92V2115.52A4 4 0 0 1 743.33 2119.52H505.70Z" fill="url(#d16)"/><path d="M503.00 2154.24H737.51A7.5 7.5 0 0 1 745.01 2161.74V2195.14A7.5 7.5 0 0 1 737.51 2202.64H503.00Z" fill="#fff"/><path d="M503.00 2155.44H736.41A6 6 0 0 1 742.41 2161.44V2195.44A6 6 0 0 1 736.41 2201.44H503.00Z" fill="#ff3d85"/><path d="M505.70 2158.14H735.71A4 4 0 0 1 739.71 2162.14V2194.74A4 4 0 0 1 735.71 2198.74H505.70Z" fill="url(#l17)"/><path d="M505.70 2158.14H735.71A4 4 0 0 1 739.71 2162.14V2194.74A4 4 0 0 1 735.71 2198.74H505.70Z" fill="url(#d17)"/><path d="M503.00 2233.46H679.72A7.5 7.5 0 0 1 687.22 2240.96V2274.36A7.5 7.5 0 0 1 679.72 2281.86H503.00Z" fill="#fff"/><path d="M503.00 2234.66H678.62A6 6 0 0 1 684.62 2240.66V2274.66A6 6 0 0 1 678.62 2280.66H503.00Z" fill="#ff3d85"/><path d="M505.70 2237.36H677.92A4 4 0 0 1 681.92 2241.36V2273.96A4 4 0 0 1 677.92 2277.96H505.70Z" fill="url(#l18)"/><path d="M505.70 2237.36H677.92A4 4 0 0 1 681.92 2241.36V2273.96A4 4 0 0 1 677.92 2277.96H505.70Z" fill="url(#d18)"/><path d="M503.00 2312.68H676.55A7.5 7.5 0 0 1 684.05 2320.18V2353.58A7.5 7.5 0 0 1 676.55 2361.08H503.00Z" fill="#fff"/><path d="M503.00 2313.88H675.45A6 6 0 0 1 681.45 2319.88V2353.88A6 6 0 0 1 675.45 2359.88H503.00Z" fill="#ff3d85"/><path d="M505.70 2316.58H674.75A4 4 0 0 1 678.75 2320.58V2353.18A4 4 0 0 1 674.75 2357.18H505.70Z" fill="url(#l19)"/><path d="M505.70 2316.58H674.75A4 4 0 0 1 678.75 2320.58V2353.18A4 4 0 0 1 674.75 2357.18H505.70Z" fill="url(#d19)"/></svg>
<div class="row"><div class="ul" style="top:852.60px"></div><svg width="80.2" height="58" style="left:95.40px;top:798.60px" viewBox="0 0 80.2 58"><defs><clipPath id="fc0"><rect x="0" y="0" width="72" height="50" rx="13.2"/></clipPath></defs><rect x="0.95" y="0.95" width="78.3" height="56.1" rx="17.3" fill="#fff" stroke="#000" stroke-width="1.9"/><g transform="translate(4.1,4.05) scale(1,0.998)" clip-path="url(#fc0)"><rect x="0" y="0.00" width="72" height="16.97" fill="#dd0016"/><rect x="0" y="16.67" width="72" height="16.97" fill="#fdc415"/><rect x="0" y="33.33" width="72" height="16.97" fill="#dd0016"/><g><ellipse cx="9.6" cy="24.6" rx="4.4" ry="5.4" fill="#d8232a"/><rect x="5.4" y="19.4" width="8.4" height="1.6" fill="#3a2a5a"/><rect x="5.2" y="21.5" width="1.3" height="8" fill="#f3eadf"/><rect x="12.7" y="21.5" width="1.3" height="8" fill="#f3eadf"/><path d="M8.2 22.5l2.8 2.4-1.2 3.6-2.2-1.6z" fill="#fff"/><rect x="5.2" y="29.2" width="1.6" height="1.1" fill="#2a2a6a"/><rect x="12.5" y="29.2" width="1.6" height="1.1" fill="#2a2a6a"/></g></g></svg><div class="num" style="top:784.20px">1</div><div class="t" style="left:214.27px;top:808.40px;font-size:37.5px;font-weight:700;color:#000;letter-spacing:-0.026px;-webkit-text-stroke:0.7px currentColor;">Spain</div><div class="t" style="left:1814.65px;top:803.15px;font-size:48.9px;font-weight:700;color:#ff3e88;letter-spacing:0.918px;-webkit-text-stroke:0.7px currentColor;">20.22M</div></div><div class="row"><div class="ul" style="top:931.82px"></div><svg width="80.2" height="58" style="left:95.40px;top:877.82px" viewBox="0 0 80.2 58"><defs><clipPath id="fc1"><rect x="0" y="0" width="72" height="50" rx="13.2"/></clipPath></defs><rect x="0.95" y="0.95" width="78.3" height="56.1" rx="17.3" fill="#fff" stroke="#000" stroke-width="1.9"/><g transform="translate(4.1,4.05) scale(1,0.998)" clip-path="url(#fc1)"><rect x="0" y="0.00" width="72" height="16.97" fill="#ee0019"/><rect x="0" y="16.67" width="72" height="16.97" fill="#fff"/><rect x="0" y="33.33" width="72" height="16.97" fill="#000"/><path d="M36.1 17.4l0.9 2.3 1.5-0.9 0.2 1.6 1.6-0.3 0.3 9.6q-0.4 1.6-2 1.6h-5q-1.6 0-2-1.6l0.3-9.6 1.6 0.3 0.2-1.6 1.5 0.9z" fill="#d9a521"/><ellipse cx="36.1" cy="23.3" rx="0.9" ry="1.5" fill="#fff"/></g></svg><div class="num" style="top:863.42px">2</div><div class="t" style="left:212.84px;top:887.62px;font-size:37.5px;font-weight:700;color:#000;letter-spacing:0.374px;-webkit-text-stroke:0.7px currentColor;">Egypt</div><div class="t" style="left:1813.27px;top:882.37px;font-size:48.9px;font-weight:700;color:#ff3e88;letter-spacing:-3.765px;-webkit-text-stroke:0.7px currentColor;">17.91M</div></div><div class="row"><div class="ul" style="top:1011.04px"></div><svg width="80.2" height="58" style="left:95.40px;top:957.04px" viewBox="0 0 80.2 58"><defs><clipPath id="fc2"><rect x="0" y="0" width="72" height="50" rx="13.2"/></clipPath></defs><rect x="0.95" y="0.95" width="78.3" height="56.1" rx="17.3" fill="#fff" stroke="#000" stroke-width="1.9"/><g transform="translate(4.1,4.05) scale(1,0.998)" clip-path="url(#fc2)"><rect width="72" height="50" fill="#fff"/><rect x="0" y="0.00" width="72" height="3.85" fill="#f10b28"/><rect x="0" y="7.69" width="72" height="3.85" fill="#f10b28"/><rect x="0" y="15.38" width="72" height="3.85" fill="#f10b28"/><rect x="0" y="23.08" width="72" height="3.85" fill="#f10b28"/><rect x="0" y="30.77" width="72" height="3.85" fill="#f10b28"/><rect x="0" y="38.46" width="72" height="3.85" fill="#f10b28"/><rect x="0" y="46.15" width="72" height="3.85" fill="#f10b28"/><rect width="37.8" height="26.92" fill="#3535fb"/><circle cx="3.15" cy="2.32" r="0.85" fill="#e9efff"/><circle cx="9.45" cy="2.32" r="0.85" fill="#e9efff"/><circle cx="15.75" cy="2.32" r="0.85" fill="#e9efff"/><circle cx="22.05" cy="2.32" r="0.85" fill="#e9efff"/><circle cx="28.35" cy="2.32" r="0.85" fill="#e9efff"/><circle cx="34.65" cy="2.32" r="0.85" fill="#e9efff"/><circle cx="6.30" cy="5.01" r="0.85" fill="#e9efff"/><circle cx="12.60" cy="5.01" r="0.85" fill="#e9efff"/><circle cx="18.90" cy="5.01" r="0.85" fill="#e9efff"/><circle cx="25.20" cy="5.01" r="0.85" fill="#e9efff"/><circle cx="31.50" cy="5.01" r="0.85" fill="#e9efff"/><circle cx="3.15" cy="7.70" r="0.85" fill="#e9efff"/><circle cx="9.45" cy="7.70" r="0.85" fill="#e9efff"/><circle cx="15.75" cy="7.70" r="0.85" fill="#e9efff"/><circle cx="22.05" cy="7.70" r="0.85" fill="#e9efff"/><circle cx="28.35" cy="7.70" r="0.85" fill="#e9efff"/><circle cx="34.65" cy="7.70" r="0.85" fill="#e9efff"/><circle cx="6.30" cy="10.40" r="0.85" fill="#e9efff"/><circle cx="12.60" cy="10.40" r="0.85" fill="#e9efff"/><circle cx="18.90" cy="10.40" r="0.85" fill="#e9efff"/><circle cx="25.20" cy="10.40" r="0.85" fill="#e9efff"/><circle cx="31.50" cy="10.40" r="0.85" fill="#e9efff"/><circle cx="3.15" cy="13.09" r="0.85" fill="#e9efff"/><circle cx="9.45" cy="13.09" r="0.85" fill="#e9efff"/><circle cx="15.75" cy="13.09" r="0.85" fill="#e9efff"/><circle cx="22.05" cy="13.09" r="0.85" fill="#e9efff"/><circle cx="28.35" cy="13.09" r="0.85" fill="#e9efff"/><circle cx="34.65" cy="13.09" r="0.85" fill="#e9efff"/><circle cx="6.30" cy="15.78" r="0.85" fill="#e9efff"/><circle cx="12.60" cy="15.78" r="0.85" fill="#e9efff"/><circle cx="18.90" cy="15.78" r="0.85" fill="#e9efff"/><circle cx="25.20" cy="15.78" r="0.85" fill="#e9efff"/><circle cx="31.50" cy="15.78" r="0.85" fill="#e9efff"/><circle cx="3.15" cy="18.47" r="0.85" fill="#e9efff"/><circle cx="9.45" cy="18.47" r="0.85" fill="#e9efff"/><circle cx="15.75" cy="18.47" r="0.85" fill="#e9efff"/><circle cx="22.05" cy="18.47" r="0.85" fill="#e9efff"/><circle cx="28.35" cy="18.47" r="0.85" fill="#e9efff"/><circle cx="34.65" cy="18.47" r="0.85" fill="#e9efff"/><circle cx="6.30" cy="21.17" r="0.85" fill="#e9efff"/><circle cx="12.60" cy="21.17" r="0.85" fill="#e9efff"/><circle cx="18.90" cy="21.17" r="0.85" fill="#e9efff"/><circle cx="25.20" cy="21.17" r="0.85" fill="#e9efff"/><circle cx="31.50" cy="21.17" r="0.85" fill="#e9efff"/><circle cx="3.15" cy="23.86" r="0.85" fill="#e9efff"/><circle cx="9.45" cy="23.86" r="0.85" fill="#e9efff"/><circle cx="15.75" cy="23.86" r="0.85" fill="#e9efff"/><circle cx="22.05" cy="23.86" r="0.85" fill="#e9efff"/><circle cx="28.35" cy="23.86" r="0.85" fill="#e9efff"/><circle cx="34.65" cy="23.86" r="0.85" fill="#e9efff"/></g></svg><div class="num" style="top:942.64px">3</div><div class="t" style="left:213.10px;top:966.84px;font-size:37.5px;font-weight:700;color:#000;letter-spacing:-0.523px;-webkit-text-stroke:0.7px currentColor;">USA</div><div class="t" style="left:1813.27px;top:961.59px;font-size:48.9px;font-weight:700;color:#ff3e88;letter-spacing:-0.625px;-webkit-text-stroke:0.7px currentColor;">14.47M</div></div><div class="row"><div class="ul" style="top:1090.26px"></div><svg width="80.2" height="58" style="left:95.40px;top:1036.26px" viewBox="0 0 80.2 58"><defs><clipPath id="fc3"><rect x="0" y="0" width="72" height="50" rx="13.2"/></clipPath></defs><rect x="0.95" y="0.95" width="78.3" height="56.1" rx="17.3" fill="#fff" stroke="#000" stroke-width="1.9"/><g transform="translate(4.1,4.05) scale(1,0.998)" clip-path="url(#fc3)"><rect width="72" height="50" fill="#009c3b"/><path d="M11.2 25L36 7.2 60.8 25 36 42.8z" fill="#ffd616"/><circle cx="36" cy="25" r="9.1" fill="#112d84"/><path d="M27.4 22.3q9-2.6 17.6 4.4" stroke="#fff" stroke-width="1.7" fill="none"/><circle cx="33.5" cy="28" r="0.5" fill="#fff"/><circle cx="36.8" cy="29.6" r="0.5" fill="#fff"/><circle cx="31" cy="27" r="0.4" fill="#fff"/></g></svg><div class="num" style="top:1021.86px">4</div><div class="t" style="left:212.84px;top:1046.06px;font-size:37.5px;font-weight:700;color:#000;letter-spacing:-0.332px;-webkit-text-stroke:0.7px currentColor;">Brazil</div><div class="t" style="left:1813.27px;top:1040.81px;font-size:48.9px;font-weight:700;color:#ff3e88;letter-spacing:-0.665px;-webkit-text-stroke:0.7px currentColor;">12.56M</div></div><div class="row"><div class="ul" style="top:1169.48px"></div><svg width="80.2" height="58" style="left:95.40px;top:1115.48px" viewBox="0 0 80.2 58"><defs><clipPath id="fc4"><rect x="0" y="0" width="72" height="50" rx="13.2"/></clipPath></defs><rect x="0.95" y="0.95" width="78.3" height="56.1" rx="17.3" fill="#fff" stroke="#000" stroke-width="1.9"/><g transform="translate(4.1,4.05) scale(1,0.998)" clip-path="url(#fc4)"><rect width="72" height="50" fill="#fff"/><rect x="12.8" width="59.2" height="50" fill="#01411c"/><path d="M35.0 12.9A12.6 12.6 0 1 0 48.4 30.9A10.9 10.9 0 0 1 35.0 12.9z" fill="#fff"/><polygon points="46.55,14.13 45.94,17.43 48.80,19.18 45.47,19.61 44.69,22.87 43.25,19.85 39.91,20.11 42.34,17.80 41.06,14.71 44.00,16.31" fill="#fff"/></g></svg><div class="num" style="top:1101.08px">5</div><div class="t" style="left:212.84px;top:1125.28px;font-size:37.5px;font-weight:700;color:#000;letter-spacing:0.355px;-webkit-text-stroke:0.7px currentColor;">Pakistan</div><div class="t" style="left:1813.27px;top:1120.03px;font-size:48.9px;font-weight:700;color:#ff3e88;letter-spacing:-1.605px;-webkit-text-stroke:0.7px currentColor;">11.94M</div></div><div class="row"><div class="ul" style="top:1248.70px"></div><svg width="80.2" height="58" style="left:95.40px;top:1194.70px" viewBox="0 0 80.2 58"><defs><clipPath id="fc5"><rect x="0" y="0" width="72" height="50" rx="13.2"/></clipPath></defs><rect x="0.95" y="0.95" width="78.3" height="56.1" rx="17.3" fill="#fff" stroke="#000" stroke-width="1.9"/><g transform="translate(4.1,4.05) scale(1,0.998)" clip-path="url(#fc5)"><rect width="72" height="50" fill="#fff"/><circle cx="36" cy="25" r="11.2" fill="#0b2b79"/><path transform="rotate(8 36 25)" d="M24.8 25A11.2 11.2 0 0 1 47.2 25A5.6 5.6 0 0 0 36 25A5.6 5.6 0 0 1 24.8 25z" fill="#e40f2a"/><g transform="translate(16.2,12.4) rotate(-56)" fill="#000"><rect x="-6.7" y="-4.75" width="13.4" height="2.3"/><rect x="-6.7" y="-1.15" width="13.4" height="2.3"/><rect x="-6.7" y="2.45" width="13.4" height="2.3"/></g><g transform="translate(55.6,12.4) rotate(56)" fill="#000"><rect x="-6.7" y="-4.75" width="6.0" height="2.3"/><rect x="0.7" y="-4.75" width="6.0" height="2.3"/><rect x="-6.7" y="-1.15" width="13.4" height="2.3"/><rect x="-6.7" y="2.45" width="6.0" height="2.3"/><rect x="0.7" y="2.45" width="6.0" height="2.3"/></g><g transform="translate(16.2,38.0) rotate(56)" fill="#000"><rect x="-6.7" y="-4.75" width="13.4" height="2.3"/><rect x="-6.7" y="-1.15" width="6.0" height="2.3"/><rect x="0.7" y="-1.15" width="6.0" height="2.3"/><rect x="-6.7" y="2.45" width="13.4" height="2.3"/></g><g transform="translate(55.6,38.0) rotate(-56)" fill="#000"><rect x="-6.7" y="-4.75" width="6.0" height="2.3"/><rect x="0.7" y="-4.75" width="6.0" height="2.3"/><rect x="-6.7" y="-1.15" width="6.0" height="2.3"/><rect x="0.7" y="-1.15" width="6.0" height="2.3"/><rect x="-6.7" y="2.45" width="6.0" height="2.3"/><rect x="0.7" y="2.45" width="6.0" height="2.3"/></g></g></svg><div class="num" style="top:1180.30px">6</div><div class="t" style="left:214.27px;top:1204.50px;font-size:37.5px;font-weight:700;color:#000;letter-spacing:-0.530px;-webkit-text-stroke:0.7px currentColor;">South Korea</div><div class="t" style="left:1813.27px;top:1199.25px;font-size:48.9px;font-weight:700;color:#ff3e88;letter-spacing:-2.345px;-webkit-text-stroke:0.7px currentColor;">11.53M</div></div><div class="row"><div class="ul" style="top:1327.92px"></div><svg width="80.2" height="58" style="left:95.40px;top:1273.92px" viewBox="0 0 80.2 58"><defs><clipPath id="fc6"><rect x="0" y="0" width="72" height="50" rx="13.2"/></clipPath></defs><rect x="0.95" y="0.95" width="78.3" height="56.1" rx="17.3" fill="#fff" stroke="#000" stroke-width="1.9"/><g transform="translate(4.1,4.05) scale(1,0.998)" clip-path="url(#fc6)"><rect x="0" y="0.00" width="72" height="25.30" fill="#ffd616"/><rect x="0" y="25.00" width="72" height="12.80" fill="#0033a0"/><rect x="0" y="37.50" width="72" height="12.80" fill="#ef0018"/></g></svg><div class="num" style="top:1259.52px">7</div><div class="t" style="left:213.81px;top:1283.72px;font-size:37.5px;font-weight:700;color:#000;letter-spacing:0.179px;-webkit-text-stroke:0.7px currentColor;">Colombia</div><div class="t" style="left:1813.27px;top:1278.47px;font-size:48.9px;font-weight:700;color:#ff3e88;letter-spacing:-0.005px;-webkit-text-stroke:0.7px currentColor;">10.07M</div></div><div class="row"><div class="ul" style="top:1407.14px"></div><svg width="80.2" height="58" style="left:95.40px;top:1353.14px" viewBox="0 0 80.2 58"><defs><clipPath id="fc7"><rect x="0" y="0" width="72" height="50" rx="13.2"/></clipPath></defs><rect x="0.95" y="0.95" width="78.3" height="56.1" rx="17.3" fill="#fff" stroke="#000" stroke-width="1.9"/><g transform="translate(4.1,4.05) scale(1,0.998)" clip-path="url(#fc7)"><rect width="72" height="50" fill="#006a4e"/><circle cx="19.8" cy="25" r="10.3" fill="#f42a41"/></g></svg><div class="num" style="top:1338.74px">8</div><div class="t" style="left:212.84px;top:1362.94px;font-size:37.5px;font-weight:700;color:#000;letter-spacing:-0.025px;-webkit-text-stroke:0.7px currentColor;">Bangladesh</div><div class="t" style="left:1814.65px;top:1357.69px;font-size:48.9px;font-weight:700;color:#ff3e88;letter-spacing:1.344px;-webkit-text-stroke:0.7px currentColor;">9.45M</div></div><div class="row"><div class="ul" style="top:1486.36px"></div><svg width="80.2" height="58" style="left:95.40px;top:1432.36px" viewBox="0 0 80.2 58"><defs><clipPath id="fc8"><rect x="0" y="0" width="72" height="50" rx="13.2"/></clipPath></defs><rect x="0.95" y="0.95" width="78.3" height="56.1" rx="17.3" fill="#fff" stroke="#000" stroke-width="1.9"/><g transform="translate(4.1,4.05) scale(1,0.998)" clip-path="url(#fc8)"><rect x="0" y="0.00" width="72" height="16.97" fill="#5eb1ff"/><rect x="0" y="16.67" width="72" height="16.97" fill="#fff"/><rect x="0" y="33.33" width="72" height="16.97" fill="#5eb1ff"/><circle cx="36.6" cy="25.2" r="7" fill="#fdbe12"/></g></svg><div class="num" style="top:1417.96px">9</div><div class="t" style="left:214.42px;top:1442.16px;font-size:37.5px;font-weight:700;color:#000;letter-spacing:0.323px;-webkit-text-stroke:0.7px currentColor;">Argentina</div><div class="t" style="left:1814.80px;top:1436.91px;font-size:48.9px;font-weight:700;color:#ff3e88;letter-spacing:1.183px;-webkit-text-stroke:0.7px currentColor;">8.58M</div></div><div class="row"><div class="ul" style="top:1565.58px"></div><svg width="80.2" height="58" style="left:95.40px;top:1511.58px" viewBox="0 0 80.2 58"><defs><clipPath id="fc9"><rect x="0" y="0" width="72" height="50" rx="13.2"/></clipPath></defs><rect x="0.95" y="0.95" width="78.3" height="56.1" rx="17.3" fill="#fff" stroke="#000" stroke-width="1.9"/><g transform="translate(4.1,4.05) scale(1,0.998)" clip-path="url(#fc9)"><rect x="0" y="0.00" width="72" height="25.30" fill="#ee0019"/><rect x="0" y="25.00" width="72" height="25.30" fill="#fff"/></g></svg><div class="num" style="top:1497.18px"><span style="letter-spacing:-1.6px;margin-right:1.6px;position:relative;left:-1.2px">10</span></div><div class="t" style="left:212.84px;top:1521.38px;font-size:37.5px;font-weight:700;color:#000;letter-spacing:-0.245px;-webkit-text-stroke:0.7px currentColor;">Indonesia</div><div class="t" style="left:1814.80px;top:1516.13px;font-size:48.9px;font-weight:700;color:#ff3e88;letter-spacing:0.483px;-webkit-text-stroke:0.7px currentColor;">8.57M</div></div><div class="row"><div class="ul" style="top:1644.80px"></div><svg width="80.2" height="58" style="left:95.40px;top:1590.80px" viewBox="0 0 80.2 58"><defs><clipPath id="fc10"><rect x="0" y="0" width="72" height="50" rx="13.2"/></clipPath></defs><rect x="0.95" y="0.95" width="78.3" height="56.1" rx="17.3" fill="#fff" stroke="#000" stroke-width="1.9"/><g transform="translate(4.1,4.05) scale(1,0.998)" clip-path="url(#fc10)"><rect x="0" y="0" width="24.8" height="50" fill="#ee0019"/><rect x="24.6" y="0" width="23.099999999999998" height="50" fill="#fff"/><rect x="47.5" y="0" width="24.7" height="50" fill="#ee0019"/></g></svg><div class="num" style="top:1576.40px"><span style="letter-spacing:-1.6px;margin-right:1.6px;position:relative;left:-1.2px">11</span></div><div class="t" style="left:212.84px;top:1600.60px;font-size:37.5px;font-weight:700;color:#000;letter-spacing:0.568px;-webkit-text-stroke:0.7px currentColor;">Peru</div><div class="t" style="left:1814.80px;top:1595.35px;font-size:48.9px;font-weight:700;color:#ff3e88;letter-spacing:-1.917px;-webkit-text-stroke:0.7px currentColor;">8.14M</div></div><div class="row"><div class="ul" style="top:1724.02px"></div><svg width="80.2" height="58" style="left:95.40px;top:1670.02px" viewBox="0 0 80.2 58"><defs><clipPath id="fc11"><rect x="0" y="0" width="72" height="50" rx="13.2"/></clipPath></defs><rect x="0.95" y="0.95" width="78.3" height="56.1" rx="17.3" fill="#fff" stroke="#000" stroke-width="1.9"/><g transform="translate(4.1,4.05) scale(1,0.998)" clip-path="url(#fc11)"><rect x="0" y="0.00" width="72" height="16.97" fill="#ff9933"/><rect x="0" y="16.67" width="72" height="16.97" fill="#fff"/><rect x="0" y="33.33" width="72" height="16.97" fill="#0e8c02"/><circle cx="35.4" cy="25" r="6.6" fill="#2c1ea3"/><circle cx="35.4" cy="25" r="5.3" fill="none" stroke="#5d63d6" stroke-width="0.8" stroke-dasharray="0.9 0.9"/></g></svg><div class="num" style="top:1655.62px"><span style="letter-spacing:-1.6px;margin-right:1.6px;position:relative;left:-1.2px">12</span></div><div class="t" style="left:212.84px;top:1679.82px;font-size:37.5px;font-weight:700;color:#000;letter-spacing:-0.261px;-webkit-text-stroke:0.7px currentColor;">India</div><div class="t" style="left:1814.25px;top:1674.57px;font-size:48.9px;font-weight:700;color:#ff3e88;letter-spacing:-2.155px;-webkit-text-stroke:0.7px currentColor;">7.01M</div></div><div class="row"><div class="ul" style="top:1803.24px"></div><svg width="80.2" height="58" style="left:95.40px;top:1749.24px" viewBox="0 0 80.2 58"><defs><clipPath id="fc12"><rect x="0" y="0" width="72" height="50" rx="13.2"/></clipPath></defs><rect x="0.95" y="0.95" width="78.3" height="56.1" rx="17.3" fill="#fff" stroke="#000" stroke-width="1.9"/><g transform="translate(4.1,4.05) scale(1,0.998)" clip-path="url(#fc12)"><rect x="0" y="0" width="22.0" height="50" fill="#006847"/><rect x="21.8" y="0" width="28.699999999999996" height="50" fill="#fff"/><rect x="50.3" y="0" width="21.900000000000002" height="50" fill="#ee0019"/><path d="M27.5 26.3A8.6 8.6 0 0 0 44.5 23.2" stroke="#dca51f" stroke-width="4" fill="none" stroke-dasharray="1.6 0.5"/><path d="M35.4 13.2c5.8-1.2 11.400 3.200 10.800 9.400l-4.400 1.400c-0.600-2.400-2.400-3.600-4.800-3.200c0.800 1.200 0.400 2.600-0.800 3.200c-1.400 0.600-2.800 0-3.600-1.200l1.800-1.400c-1.600-0.600-2.200-2-1.600-3.600c0.400-1 1.200-1.600 2.200-1.800c-0.600-1-0.400-2.200 0.400-2.800z" fill="#dca51f"/></g></svg><div class="num" style="top:1734.84px"><span style="letter-spacing:-1.6px;margin-right:1.6px;position:relative;left:-1.2px">13</span></div><div class="t" style="left:212.84px;top:1759.04px;font-size:37.5px;font-weight:700;color:#000;letter-spacing:0.727px;-webkit-text-stroke:0.7px currentColor;">Mexico</div><div class="t" style="left:1814.56px;top:1753.79px;font-size:48.9px;font-weight:700;color:#ff3e88;letter-spacing:0.068px;-webkit-text-stroke:0.7px currentColor;">6.73M</div></div><div class="row"><div class="ul" style="top:1882.46px"></div><svg width="80.2" height="58" style="left:95.40px;top:1828.46px" viewBox="0 0 80.2 58"><defs><clipPath id="fc13"><rect x="0" y="0" width="72" height="50" rx="13.2"/></clipPath></defs><rect x="0.95" y="0.95" width="78.3" height="56.1" rx="17.3" fill="#fff" stroke="#000" stroke-width="1.9"/><g transform="translate(4.1,4.05) scale(1,0.998)" clip-path="url(#fc13)"><rect x="0" y="0" width="24.8" height="50" fill="#009246"/><rect x="24.6" y="0" width="23.099999999999998" height="50" fill="#fff"/><rect x="47.5" y="0" width="24.7" height="50" fill="#f5112a"/></g></svg><div class="num" style="top:1814.06px"><span style="letter-spacing:-1.6px;margin-right:1.6px;position:relative;left:-1.2px">14</span></div><div class="t" style="left:212.84px;top:1838.26px;font-size:37.5px;font-weight:700;color:#000;letter-spacing:0.416px;-webkit-text-stroke:0.7px currentColor;">Italy</div><div class="t" style="left:1815.61px;top:1833.01px;font-size:48.9px;font-weight:700;color:#ff3e88;letter-spacing:1.530px;-webkit-text-stroke:0.7px currentColor;">4.64M</div></div><div class="row"><div class="ul" style="top:1961.68px"></div><svg width="80.2" height="58" style="left:95.40px;top:1907.68px" viewBox="0 0 80.2 58"><defs><clipPath id="fc14"><rect x="0" y="0" width="72" height="50" rx="13.2"/></clipPath></defs><rect x="0.95" y="0.95" width="78.3" height="56.1" rx="17.3" fill="#fff" stroke="#000" stroke-width="1.9"/><g transform="translate(4.1,4.05) scale(1,0.998)" clip-path="url(#fc14)"><rect width="72" height="50" fill="#f4160e"/><polygon points="36.10,15.30 38.57,22.80 46.47,22.83 40.09,27.50 42.51,35.02 36.10,30.40 29.69,35.02 32.11,27.50 25.73,22.83 33.63,22.80" fill="#f5e61b"/></g></svg><div class="num" style="top:1893.28px"><span style="letter-spacing:-1.6px;margin-right:1.6px;position:relative;left:-1.2px">15</span></div><div class="t" style="left:215.09px;top:1917.48px;font-size:37.5px;font-weight:700;color:#000;letter-spacing:1.396px;-webkit-text-stroke:0.7px currentColor;">Vietnam</div><div class="t" style="left:1815.61px;top:1912.23px;font-size:48.9px;font-weight:700;color:#ff3e88;letter-spacing:0.430px;-webkit-text-stroke:0.7px currentColor;">4.37M</div></div><div class="row"><div class="ul" style="top:2040.90px"></div><svg width="80.2" height="58" style="left:95.40px;top:1986.90px" viewBox="0 0 80.2 58"><defs><clipPath id="fc15"><rect x="0" y="0" width="72" height="50" rx="13.2"/></clipPath></defs><rect x="0.95" y="0.95" width="78.3" height="56.1" rx="17.3" fill="#fff" stroke="#000" stroke-width="1.9"/><g transform="translate(4.1,4.05) scale(1,0.998)" clip-path="url(#fc15)"><rect x="0" y="0" width="24.8" height="50" fill="#0020a5"/><rect x="24.6" y="0" width="23.099999999999998" height="50" fill="#fff"/><rect x="47.5" y="0" width="24.7" height="50" fill="#fb2133"/></g></svg><div class="num" style="top:1972.50px"><span style="letter-spacing:-1.6px;margin-right:1.6px;position:relative;left:-1.2px">16</span></div><div class="t" style="left:212.84px;top:1996.70px;font-size:37.5px;font-weight:700;color:#000;letter-spacing:0.421px;-webkit-text-stroke:0.7px currentColor;">France</div><div class="t" style="left:1815.61px;top:1991.45px;font-size:48.9px;font-weight:700;color:#ff3e88;letter-spacing:2.230px;-webkit-text-stroke:0.7px currentColor;">4.08M</div></div><div class="row"><div class="ul" style="top:2120.12px"></div><svg width="80.2" height="58" style="left:95.40px;top:2066.12px" viewBox="0 0 80.2 58"><defs><clipPath id="fc16"><rect x="0" y="0" width="72" height="50" rx="13.2"/></clipPath></defs><rect x="0.95" y="0.95" width="78.3" height="56.1" rx="17.3" fill="#fff" stroke="#000" stroke-width="1.9"/><g transform="translate(4.1,4.05) scale(1,0.998)" clip-path="url(#fc16)"><rect x="0" y="0.00" width="72" height="15.30" fill="#00b5e6"/><rect x="0" y="15.00" width="72" height="20.30" fill="#fb2035"/><rect x="0" y="35.00" width="72" height="15.30" fill="#0cba0a"/><path d="M37.5 17.5A8.4 8.4 0 1 0 37.5 32.5A6.9 6.9 0 1 1 37.5 17.5z" fill="#fff"/><polygon points="41.60,22.00 42.17,23.61 43.72,22.88 42.99,24.43 44.60,25.00 42.99,25.57 43.72,27.12 42.17,26.39 41.60,28.00 41.03,26.39 39.48,27.12 40.21,25.57 38.60,25.00 40.21,24.43 39.48,22.88 41.03,23.61" fill="#fff"/></g></svg><div class="num" style="top:2051.72px"><span style="letter-spacing:-1.6px;margin-right:1.6px;position:relative;left:-1.2px">17</span></div><div class="t" style="left:214.42px;top:2075.92px;font-size:37.5px;font-weight:700;color:#000;letter-spacing:0.045px;-webkit-text-stroke:0.7px currentColor;">Azerbaijan</div><div class="t" style="left:1815.23px;top:2070.67px;font-size:48.9px;font-weight:700;color:#ff3e88;letter-spacing:1.201px;-webkit-text-stroke:0.7px currentColor;">3.89M</div></div><div class="row"><div class="ul" style="top:2199.34px"></div><svg width="80.2" height="58" style="left:95.40px;top:2145.34px" viewBox="0 0 80.2 58"><defs><clipPath id="fc17"><rect x="0" y="0" width="72" height="50" rx="13.2"/></clipPath></defs><rect x="0.95" y="0.95" width="78.3" height="56.1" rx="17.3" fill="#fff" stroke="#000" stroke-width="1.9"/><g transform="translate(4.1,4.05) scale(1,0.998)" clip-path="url(#fc17)"><rect width="72" height="50" fill="#fff"/><circle cx="36.1" cy="25.1" r="14.9" fill="#bc002d"/></g></svg><div class="num" style="top:2130.94px"><span style="letter-spacing:-1.6px;margin-right:1.6px;position:relative;left:-1.2px">18</span></div><div class="t" style="left:214.78px;top:2155.14px;font-size:37.5px;font-weight:700;color:#000;letter-spacing:-0.924px;-webkit-text-stroke:0.7px currentColor;">Japan</div><div class="t" style="left:1815.23px;top:2149.89px;font-size:48.9px;font-weight:700;color:#ff3e88;letter-spacing:-0.449px;-webkit-text-stroke:0.7px currentColor;">3.77M</div></div><div class="row"><div class="ul" style="top:2278.56px"></div><svg width="80.2" height="58" style="left:95.40px;top:2224.56px" viewBox="0 0 80.2 58"><defs><clipPath id="fc18"><rect x="0" y="0" width="72" height="50" rx="13.2"/></clipPath></defs><rect x="0.95" y="0.95" width="78.3" height="56.1" rx="17.3" fill="#fff" stroke="#000" stroke-width="1.9"/><g transform="translate(4.1,4.05) scale(1,0.998)" clip-path="url(#fc18)"><rect x="0" y="0.00" width="72" height="16.97" fill="#ec0019"/><rect x="0" y="16.67" width="72" height="16.97" fill="#fff"/><rect x="0" y="33.33" width="72" height="16.97" fill="#0043d6"/></g></svg><div class="num" style="top:2210.16px"><span style="letter-spacing:-1.6px;margin-right:1.6px;position:relative;left:-1.2px">19</span></div><div class="t" style="left:212.84px;top:2234.36px;font-size:37.5px;font-weight:700;color:#000;letter-spacing:0.651px;-webkit-text-stroke:0.7px currentColor;">Netherlands</div><div class="t" style="left:1814.65px;top:2229.11px;font-size:48.9px;font-weight:700;color:#ff3e88;letter-spacing:1.394px;-webkit-text-stroke:0.7px currentColor;">2.86M</div></div><div class="row"><div class="ul" style="top:2357.78px"></div><svg width="80.2" height="58" style="left:95.40px;top:2303.78px" viewBox="0 0 80.2 58"><defs><clipPath id="fc19"><rect x="0" y="0" width="72" height="50" rx="13.2"/></clipPath></defs><rect x="0.95" y="0.95" width="78.3" height="56.1" rx="17.3" fill="#fff" stroke="#000" stroke-width="1.9"/><g transform="translate(4.1,4.05) scale(1,0.998)" clip-path="url(#fc19)"><rect width="72" height="50" fill="#ee0a0a"/><rect width="36" height="25.2" fill="#0000b3"/><polygon points="18.30,5.40 19.49,8.16 21.90,6.36 21.55,9.35 24.54,9.00 22.74,11.41 25.50,12.60 22.74,13.79 24.54,16.20 21.55,15.85 21.90,18.84 19.49,17.04 18.30,19.80 17.11,17.04 14.70,18.84 15.05,15.85 12.06,16.20 13.86,13.79 11.10,12.60 13.86,11.41 12.06,9.00 15.05,9.35 14.70,6.36 17.11,8.16" fill="#fff"/><circle cx="18.3" cy="12.6" r="4.3" fill="#fff"/></g></svg><div class="num" style="top:2289.38px"><span style="letter-spacing:-1.6px;margin-right:1.6px;position:relative;left:0px">20</span></div><div class="t" style="left:214.93px;top:2313.58px;font-size:37.5px;font-weight:700;color:#000;letter-spacing:0.121px;-webkit-text-stroke:0.7px currentColor;">Taiwan</div><div class="t" style="left:1814.65px;top:2308.33px;font-size:48.9px;font-weight:700;color:#ff3e88;letter-spacing:-1.481px;-webkit-text-stroke:0.7px currentColor;">2.81M</div></div>
<div class="foot"></div>
<div class="t" style="left:65.26px;top:2461.55px;font-size:18.6px;font-weight:400;color:#4a4a4a;letter-spacing:-0.082px;"><b style="color:#333">Methodology:</b> We identified the top 100 trending YouTube channels in every country (on playboard.co) and isolated the trending AI slop</div><div class="t" style="left:65.51px;top:2483.35px;font-size:18.6px;font-weight:400;color:#4a4a4a;letter-spacing:-0.094px;">channels. We then used socialblade.com to retrieve the number of subscribers for these channels, and ranked countries by the total</div><div class="t" style="left:65.78px;top:2505.15px;font-size:18.6px;font-weight:400;color:#4a4a4a;letter-spacing:-0.018px;">subscriber count of these trending AI slop channels.</div>
<svg width="2048" height="2560" viewBox="0 0 2048 2560"><rect x="1222.6" y="2458.3" width="165.2" height="59.1" rx="2.5" fill="#b3bbb2" stroke="#000" stroke-width="1.6"/><path d="M1222.6 2500.3H1387.8V2516.4Q1387.8 2517.4 1386.8 2517.4H1223.6Q1222.6 2517.4 1222.6 2516.4Z" fill="#000"/><circle cx="1251.7" cy="2485.0" r="24.3" fill="#b3bbb2"/><circle cx="1251.7" cy="2485.0" r="21.2" fill="#000"/><circle cx="1251.7" cy="2485.0" r="17.2" fill="#fff"/><text x="1251.7" y="2490.6" text-anchor="middle" font-family="Liberation Sans, sans-serif" font-weight="700" font-size="20" letter-spacing="-1.2" fill="#000">cc</text><circle cx="1309.6" cy="2479.2" r="14.9" fill="#fff" stroke="#000" stroke-width="2.6"/><circle cx="1309.6" cy="2470.6" r="2.7" fill="#000"/><path d="M1305.3 2474.6h8.6v8.2h-2.100v8.200h-4.400v-8.200h-2.100z" fill="#000"/><circle cx="1348.7" cy="2479.2" r="14.9" fill="#fff" stroke="#000" stroke-width="2.6"/><path d="M1342.08 2476.11A7.3 7.3 0 1 1 1342.38 2482.85" fill="none" stroke="#000" stroke-width="3.4"/><path d="M1336.5 2476.2h8.400l-4.200 5.200z" fill="#000"/><text x="1308.4" y="2513.2" text-anchor="middle" font-family="Liberation Sans, sans-serif" font-weight="700" font-size="12.6" fill="#fff">BY</text><text x="1347.0" y="2513.2" text-anchor="middle" font-family="Liberation Sans, sans-serif" font-weight="700" font-size="12.6" fill="#fff">SA</text><rect x="1439" y="2473.3" width="22" height="7.4" rx="1.6" fill="#ffd02f"/><rect x="1419.7" y="2483.4" width="41.3" height="7.4" rx="1.6" fill="#12e6df"/><rect x="1419.7" y="2493.7" width="18.9" height="7.5" rx="1.6" fill="#12e6df"/><rect x="1442" y="2493.7" width="11.2" height="7.5" rx="1.6" fill="#ff3e9a"/><rect x="1688.4" y="2459.2" width="1.8" height="57.4" fill="#3a3a3a"/><path d="M1954.6 2459.2L1980.7 2473.5L1980.7 2502.1L1954.6 2516.4L1928.5 2502.1L1928.5 2473.5Z" fill="none" stroke="#222" stroke-width="1.7" stroke-linejoin="round"/><path d="M1928.5 2473.5L1954.6 2487.8L1980.6999999999998 2473.5M1954.6 2487.8V2516.4" fill="none" stroke="#222" stroke-width="1.7" stroke-linejoin="round"/><text transform="matrix(0.8771,0.4802,0,1,1941.2,2502.6)" font-family="Liberation Sans, sans-serif" text-anchor="middle" fill="#222" font-size="21.5">N</text><text transform="matrix(0.8771,-0.4802,0,1,1967.9,2502.6)" font-family="Liberation Sans, sans-serif" text-anchor="middle" fill="#222" font-size="21.5">S</text><text transform="matrix(0.8771,0.4802,-0.8771,0.4802,1948.2,2477.1)" font-family="Liberation Sans, sans-serif" text-anchor="middle" fill="#222" font-size="21">M</text></svg>
<div class="t" style="left:1468.25px;top:2468.90px;font-size:37.2px;font-weight:700;color:#3a3d44;letter-spacing:0.000px;-webkit-text-stroke:1.2px #3a3d44;transform:scaleX(1.1032);transform-origin:0 0;">KAPWING</div><div class="t" style="left:1702.31px;top:2464.41px;font-size:18.3px;font-weight:400;color:#333;letter-spacing:-0.854px;">IN PARTNERSHIP WITH</div><div class="t" style="left:1701.67px;top:2487.03px;font-size:26.3px;font-weight:400;color:#222;letter-spacing:0.000px;transform:scaleX(1.0821);transform-origin:0 0;">NeoMam Studios</div>
</body></html>
